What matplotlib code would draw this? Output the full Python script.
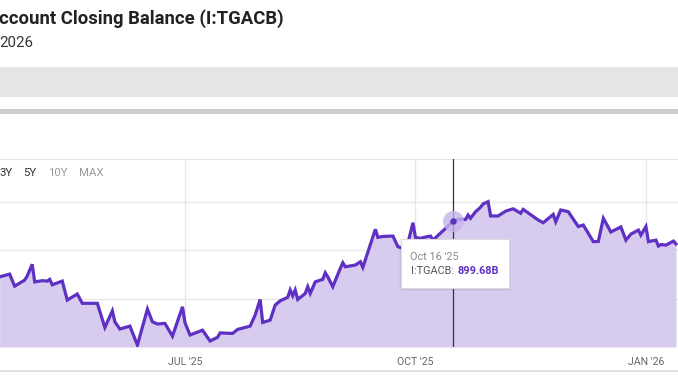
import matplotlib
matplotlib.use("Agg")
import matplotlib.pyplot as plt
from matplotlib.patches import Rectangle
import pandas as pd

plt.rcParams['font.family'] = ['Roboto', 'DejaVu Sans']

# daily closing balance, billions of USD
dates = ["2025-04-18", "2025-04-22", "2025-04-24", "2025-04-28", "2025-04-29",
         "2025-05-01", "2025-05-02", "2025-05-05", "2025-05-07", "2025-05-08",
         "2025-05-09", "2025-05-13", "2025-05-15", "2025-05-19", "2025-05-21",
         "2025-05-27", "2025-05-30", "2025-06-02", "2025-06-03", "2025-06-05",
         "2025-06-09", "2025-06-12", "2025-06-16", "2025-06-18", "2025-06-20",
         "2025-06-23", "2025-06-26", "2025-06-30", "2025-07-01", "2025-07-03",
         "2025-07-08", "2025-07-11", "2025-07-14", "2025-07-15", "2025-07-20",
         "2025-07-22", "2025-07-27", "2025-07-29", "2025-07-31", "2025-08-01",
         "2025-08-04", "2025-08-06", "2025-08-08", "2025-08-11", "2025-08-12",
         "2025-08-13", "2025-08-14", "2025-08-15", "2025-08-18", "2025-08-19",
         "2025-08-20", "2025-08-22", "2025-08-25", "2025-08-26", "2025-08-27",
         "2025-08-29", "2025-09-01", "2025-09-02", "2025-09-03", "2025-09-07",
         "2025-09-09", "2025-09-10", "2025-09-15", "2025-09-16", "2025-09-18",
         "2025-09-22", "2025-09-24", "2025-09-26", "2025-09-28", "2025-09-30",
         "2025-10-01", "2025-10-03", "2025-10-05", "2025-10-07", "2025-10-08",
         "2025-10-16", "2025-10-18", "2025-10-21", "2025-10-22", "2025-10-23",
         "2025-10-25", "2025-10-27", "2025-10-28", "2025-10-30", "2025-10-31",
         "2025-11-03", "2025-11-06", "2025-11-09", "2025-11-12", "2025-11-13",
         "2025-11-19", "2025-11-21", "2025-11-25", "2025-11-26", "2025-11-28",
         "2025-12-01", "2025-12-05", "2025-12-07", "2025-12-11", "2025-12-13",
         "2025-12-15", "2025-12-18", "2025-12-22", "2025-12-24", "2025-12-26",
         "2025-12-29", "2025-12-30", "2026-01-01", "2026-01-02", "2026-01-05",
         "2026-01-06", "2026-01-07", "2026-01-09", "2026-01-12", "2026-01-13"]
balance = [613, 627, 565, 596, 617,
           678, 587, 593, 591, 600,
           572, 591, 493, 524, 476,
           476, 351, 437, 380, 343,
           358, 260, 446, 380, 369,
           372, 306, 458, 375, 312,
           337, 281, 300, 323, 320,
           341, 358, 415, 496, 377,
           389, 467, 489, 507, 545,
           515, 545, 496, 527, 562,
           527, 587, 600, 634, 613,
           562, 657, 686, 665, 674,
           691, 662, 859, 817, 822,
           824, 769, 760, 788, 893,
           817, 812, 819, 824, 803,
           899.68, 910, 910, 933, 916,
           950, 973, 990, 1002, 928,
           928, 953, 965, 942, 962,
           907, 893, 936, 898, 959,
           950, 873, 881, 795, 796,
           916, 845, 871, 803, 834,
           855, 829, 873, 795, 803,
           772, 780, 777, 798, 783]

tick_dates = ["2025-07-01", "2025-10-01", "2026-01-01"]
tick_labels = ["JUL '25", "OCT '25", "JAN '26"]
y_grid = [500, 750, 1000]
ranges = ["3Y", "5Y", "10Y", "MAX"]

hover_date = "2025-10-16"
hover_label = "Oct 16 '25"
hover_value = 899.68

line_c = "#5e30c4"
fill_c = "#d8cbf0"

x = pd.to_datetime(dates)
W, H = 678, 377
fig = plt.figure(figsize=(W / 100, H / 100), dpi=100)

def fx(px):
    return px / W

def fy(py):
    return 1 - py / H

# page decoration: header texts and grey bands
fig.text(fx(-1), fy(24), "ccount Closing Balance (I:TGACB)", fontsize=13.3,
         fontweight="bold", color="#222222", va="baseline", ha="left")
fig.text(fx(-1), fy(47), "2026", fontsize=10.8, color="#333333", va="baseline")
fig.patches.append(Rectangle((0, fy(97)), 1, fy(67) - fy(97), transform=fig.transFigure,
                             color="#e5e5e5", lw=0))
fig.patches.append(Rectangle((0, fy(114)), 1, fy(109) - fy(114), transform=fig.transFigure,
                             color="#cdcdcd", lw=0))
fig.patches.append(Rectangle((0, fy(372)), 1, fy(370) - fy(372), transform=fig.transFigure,
                             color="#e2e2e2", lw=0))

ax = fig.add_axes([0, fy(347), 1, fy(159) - fy(347)])
t0 = pd.Timestamp("2025-07-01")
ax.set_xlim(t0 - pd.Timedelta(days=185 / 2.505), t0 + pd.Timedelta(days=(W - 185) / 2.505))
ax.set_ylim(250, 1222.6)

for d in tick_dates:
    ax.axvline(pd.Timestamp(d), color="#e8e8e8", lw=1, zorder=0)
for v in y_grid:
    ax.axhline(v, color="#e8e8e8", lw=1, zorder=0)

ax.fill_between(x, balance, 250, color=fill_c, lw=0, zorder=1)
ax.plot(x, balance, color=line_c, lw=2.3, zorder=2, solid_joinstyle="miter")

for s in ["left", "right", "bottom"]:
    ax.spines[s].set_visible(False)
ax.spines["top"].set_color("#e6e6e6")
ax.set_yticks([])
ax.set_xticks(pd.to_datetime(tick_dates))
ax.set_xticklabels(tick_labels)
ax.tick_params(axis="x", length=0, pad=7, labelsize=7.6, labelcolor="#666666")

# range buttons
btn_x = [-1, 23, 48, 79]
btn_c = ["#333333", "#333333", "#9a9a9a", "#9a9a9a"]
for lbl, bx, bc in zip(ranges, btn_x, btn_c):
    fig.text(fx(bx), fy(176.5), lbl, fontsize=8.2, color=bc, va="baseline")

# hover crosshair and marker
hx = pd.Timestamp(hover_date)
ax.axvline(hx, color="#333333", lw=0.9, zorder=3)
ax.scatter([hx], [hover_value], s=230, color="#c6b5ec", alpha=0.8, lw=0, zorder=4)
ax.scatter([hx], [hover_value], s=22, color=line_c, lw=0, zorder=5)

# tooltip
for i, a in enumerate([0.05, 0.04, 0.03]):
    o = i + 1
    fig.patches.append(Rectangle((fx(401 - o + 1), fy(288 + o)), fx(108 + 2 * o - 2), fy(239) - fy(288 + o),
                                 transform=fig.transFigure, color="black", alpha=a, lw=0, zorder=6))
fig.patches.append(Rectangle((fx(401), fy(288)), fx(108), fy(239) - fy(288),
                             transform=fig.transFigure, facecolor="white", edgecolor="#dcdcdc",
                             lw=0.8, zorder=7))
fig.text(fx(410.5), fy(259.5), hover_label, fontsize=7.8, color="#8a8a8a", va="baseline", zorder=8)
t1 = fig.text(fx(410.5), fy(274), "I:TGACB:", fontsize=7.8, color="#555555", va="baseline", zorder=8)
r = fig.canvas.get_renderer()
end_x = t1.get_window_extent(renderer=r).x1
fig.text(fx(end_x + 3.5), fy(274), f"{hover_value:.2f}B", fontsize=7.8, color=line_c,
         fontweight="bold", va="baseline", zorder=8)

fig.savefig("out.png", dpi=100)
